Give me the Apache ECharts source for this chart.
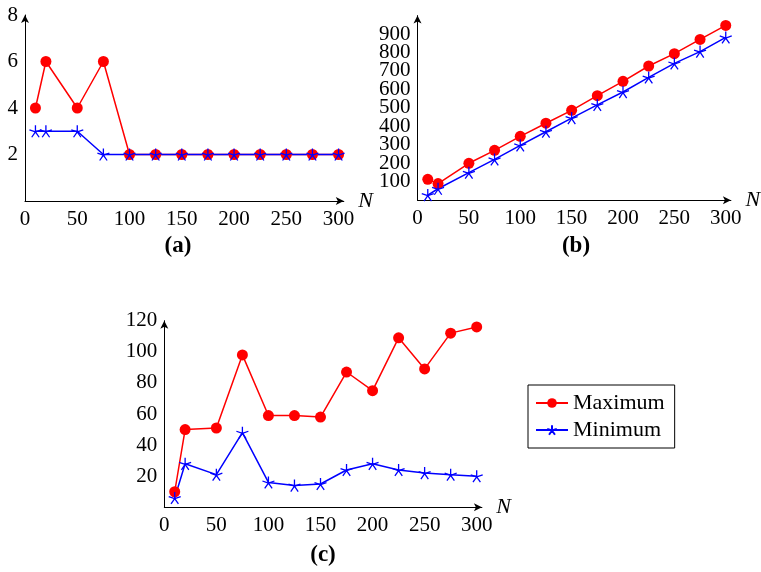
<!DOCTYPE html>
<html>
<head>
<meta charset="utf-8">
<script src="https://cdn.jsdelivr.net/npm/echarts@6/dist/echarts.min.js"></script>
<style>
html,body{margin:0;padding:0;background:#fff;}
#main{width:761px;height:572px;}
</style>
</head>
<body>
<div id="main"></div>
<script>
// ---- data ----
const nValues = [10, 20, 50, 75, 100, 125, 150, 175, 200, 225, 250, 275, 300];
const maxA = [4, 6, 4, 6, 2, 2, 2, 2, 2, 2, 2, 2, 2];
const minA = [3, 3, 3, 2, 2, 2, 2, 2, 2, 2, 2, 2, 2];
const maxB = [113, 90, 200, 270, 346, 417, 487, 566, 644, 727, 794, 871, 947];
const minB = [28, 62, 149, 221, 297, 371, 445, 516, 586, 665, 741, 805, 882];
const maxC = [10, 50, 51, 98, 59, 59, 58, 87, 75, 109, 89, 112, 116];
const minC = [6, 28, 21, 48, 16, 14, 15, 24, 28, 24, 22, 21, 20];
const xTicks = [0, 50, 100, 150, 200, 250, 300];
const yTicksA = [2, 4, 6, 8];
const yTicksB = [100, 200, 300, 400, 500, 600, 700, 800, 900];
const yTicksC = [20, 40, 60, 80, 100, 120];
const captions = ['(a)', '(b)', '(c)'];
const seriesNames = ['Maximum', 'Minimum'];

const pairs = arr => nValues.map((n, i) => [n, arr[i]]);
const FONT = '"Liberation Serif", "Times New Roman", serif';
const STAR = 'path://M50,50L50,0M50,50L97.55,34.55M50,50L79.39,90.45M50,50L20.61,90.45M50,50L2.45,34.55';

const grids = [
  {left: 25, top: 15, width: 318.8, height: 186},
  {left: 417.5, top: 15.6, width: 317.5, height: 184.6},
  {left: 164.3, top: 320.7, width: 317.6, height: 186.6}
];
const yMax = [8, 1000, 120];
const yInt = [2, 100, 20];
const yTicks = [yTicksA, yTicksB, yTicksC];

const axisLine = {
  show: true,
  onZero: false,
  lineStyle: {color: '#000', width: 1},
  symbol: ['none', 'arrow'],
  symbolSize: [6, 8]
};

const xAxes = grids.map((g, i) => ({
  type: 'value', gridIndex: i, min: 0, max: 305, interval: 50,
  axisLine: axisLine, axisTick: {show: false}, splitLine: {show: false},
  axisLabel: {
    fontFamily: FONT, fontSize: 21, color: '#000', margin: 8,
    formatter: v => xTicks.indexOf(v) >= 0 ? String(v) : ''
  },
  name: 'N', nameLocation: 'end', nameGap: -4,
  nameTextStyle: {fontFamily: FONT, fontSize: 22, fontStyle: 'italic', color: '#000', verticalAlign: 'middle'}
}));

const yAxes = grids.map((g, i) => ({
  type: 'value', gridIndex: i, min: 0, max: yMax[i], interval: yInt[i],
  axisLine: axisLine, axisTick: {show: false}, splitLine: {show: false},
  axisLabel: {
    fontFamily: FONT, fontSize: 21, color: '#000', margin: 7,
    formatter: v => yTicks[i].indexOf(v) >= 0 ? String(v) : ''
  }
}));

const datasets = [[maxA, minA], [maxB, minB], [maxC, minC]];
const series = [];
datasets.forEach((d, i) => {
  series.push({
    name: seriesNames[0], type: 'line', xAxisIndex: i, yAxisIndex: i,
    data: pairs(d[0]), symbol: 'circle', symbolSize: 11,
    lineStyle: {color: '#ff0000', width: 1.5},
    itemStyle: {color: '#ff0000'}, animation: false
  });
  series.push({
    name: seriesNames[1], type: 'line', xAxisIndex: i, yAxisIndex: i,
    data: pairs(d[1]), symbol: STAR, symbolSize: 12,
    lineStyle: {color: '#0000ff', width: 1.5},
    itemStyle: {color: 'rgba(0,0,0,0)', borderColor: '#0000ff', borderWidth: 1.3},
    animation: false
  });
});

const capPos = [[178, 246], [576, 246], [323, 555]];

const option = {
  animation: false,
  grid: grids,
  xAxis: xAxes,
  yAxis: yAxes,
  series: series,
  legend: {
    data: seriesNames,
    orient: 'vertical',
    left: 528, top: 385,
    padding: [7, 10, 7, 7],
    itemGap: 5,
    itemWidth: 32, itemHeight: 12,
    borderColor: '#000', borderWidth: 1, borderRadius: 0,
    textStyle: {fontFamily: FONT, fontSize: 22, color: '#000', lineHeight: 20}
  },
  graphic: captions.map((c, i) => ({
    type: 'text', x: capPos[i][0], y: capPos[i][1],
    style: {text: c, fontFamily: FONT, fontSize: 23, fontWeight: 'bold', fill: '#000', align: 'center', verticalAlign: 'middle'}
  }))
};

const chart = echarts.init(document.getElementById('main'), null, {renderer: 'canvas'});
chart.setOption(option);
</script>
</body>
</html>
